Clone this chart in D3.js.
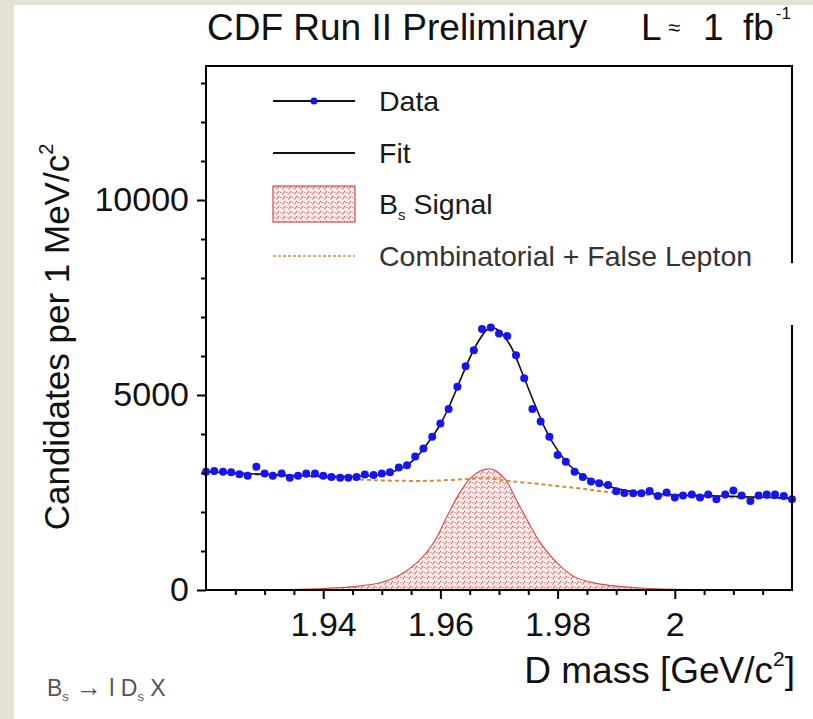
<!DOCTYPE html>
<html>
<head>
<meta charset="utf-8">
<script src="https://cdn.jsdelivr.net/npm/d3@7"></script>
<style>
  html, body { margin: 0; padding: 0; background: #e4e2d2; }
  svg { display: block; }
  text { font-family: "Liberation Sans", Arial, sans-serif; }
</style>
</head>
<body>
<svg id="chart" width="813" height="719"></svg>
<script>
// bin centres of the D mass histogram [GeV/c^2]
const massBins = [1.9200, 1.9214, 1.9229, 1.9243, 1.9257, 1.9271, 1.9286, 1.9300, 1.9314, 1.9329,
  1.9343, 1.9357, 1.9371, 1.9386, 1.9400, 1.9414, 1.9429, 1.9443, 1.9457, 1.9471,
  1.9486, 1.9500, 1.9514, 1.9529, 1.9543, 1.9557, 1.9571, 1.9586, 1.9600, 1.9614,
  1.9629, 1.9643, 1.9657, 1.9671, 1.9686, 1.9700, 1.9714, 1.9729, 1.9743, 1.9757,
  1.9771, 1.9786, 1.9800, 1.9814, 1.9829, 1.9843, 1.9857, 1.9871, 1.9886, 1.9900,
  1.9914, 1.9929, 1.9943, 1.9957, 1.9971, 1.9986, 2.0000, 2.0014, 2.0029, 2.0043,
  2.0057, 2.0071, 2.0086, 2.0100, 2.0114, 2.0129, 2.0143, 2.0157, 2.0171, 2.0186, 2.0200]
// candidates in each bin
const candidates = [3030, 3050, 3030, 3020, 2970, 2930, 3160, 2990, 2930, 2990,
  2880, 2930, 2990, 2990, 2930, 2900, 2880, 2880, 2900, 2960,
  2950, 2990, 3020, 3140, 3200, 3420, 3630, 3930, 4270, 4640,
  5210, 5740, 6150, 6690, 6730, 6580, 6510, 6020, 5430, 4640,
  4320, 3930, 3460, 3290, 3030, 2900, 2780, 2740, 2690, 2530,
  2490, 2480, 2480, 2540, 2410, 2500, 2370, 2420, 2450, 2370,
  2450, 2330, 2450, 2550, 2420, 2280, 2420, 2450, 2450, 2410, 2330]

// total fit
const fitMass = [1.920, 1.925, 1.930, 1.935, 1.940, 1.945, 1.950, 1.952, 1.954, 1.956, 1.958, 1.960,
  1.962, 1.964, 1.966, 1.968, 1.969, 1.970, 1.972, 1.974, 1.976, 1.978, 1.980, 1.982,
  1.984, 1.986, 1.988, 1.990, 1.994, 2.000, 2.005, 2.010, 2.015, 2.020]
const fitValues = [3035, 3000, 2965, 2935, 2915, 2910, 2960, 3040, 3170, 3420, 3800, 4250,
  4880, 5600, 6250, 6680, 6720, 6650, 6250, 5550, 4800, 4100, 3580, 3200,
  2960, 2800, 2690, 2600, 2500, 2440, 2420, 2400, 2380, 2350]

// combinatorial + false lepton background
const bkgMass = [1.920, 1.930, 1.940, 1.950, 1.958, 1.964, 1.968, 1.972, 1.978, 1.984, 1.990, 1.996, 2.002, 2.010, 2.020]
const bkgValues = [3030, 2950, 2880, 2810, 2800, 2840, 2860, 2790, 2700, 2600, 2490, 2430, 2400, 2370, 2340]

// Bs signal
const sigMass = [1.930, 1.936, 1.942, 1.946, 1.950, 1.953, 1.956, 1.959, 1.961, 1.963, 1.965, 1.967,
  1.968, 1.969, 1.971, 1.973, 1.975, 1.977, 1.979, 1.981, 1.983, 1.986, 1.990, 1.995, 2.002, 2.010]
const sigValues = [0, 15, 55, 100, 200, 380, 700, 1250, 1850, 2420, 2850, 3070,
  3100, 3090, 2850, 2300, 1740, 1220, 840, 540, 330, 190, 100, 45, 10, 0]

const xTicks = [1.94, 1.96, 1.98, 2]
const xMinorTicks = [1.925, 1.93, 1.935, 1.945, 1.95, 1.955, 1.965, 1.97, 1.975, 1.985, 1.99, 1.995, 2.005, 2.01, 2.015]
const yTicks = [0, 5000, 10000]
const yMinorTicks = [1000, 2000, 3000, 4000, 6000, 7000, 8000, 9000, 11000, 12000, 13000]

const blue = "#1414f5", red = "#d84848", orange = "#d48b3a"

const width = 813, height = 719
const margin = {top: 66, right: 21, bottom: 129, left: 206}

const svg = d3.select("#chart")

// white sheet on the beige slide
svg.append("rect").attr("x", 14).attr("y", 5).attr("width", width - 14).attr("height", height - 5).attr("fill", "#ffffff")

const x = d3.scaleLinear()
  .domain([1.92, 2.02])
  .range([margin.left, width - margin.right])

const y = d3.scaleLinear()
  .domain([0, 13436])
  .range([height - margin.bottom, margin.top])

// hatch used for the signal
const defs = svg.append("defs")
const pat = defs.append("pattern")
  .attr("id", "hatch")
  .attr("patternUnits", "userSpaceOnUse")
  .attr("width", 6).attr("height", 5)
pat.append("rect").attr("width", 6).attr("height", 5).attr("fill", "#fdeeee")
pat.append("path").attr("d", "M0.5,4.5 L3,0.8").attr("stroke", "#d95050").attr("stroke-width", 1)
pat.append("path").attr("d", "M3.8,2.5 L5.6,2.5").attr("stroke", "#e58080").attr("stroke-width", 0.9)

// signal area
const sigData = sigMass.map((m, i) => [m, sigValues[i]])
const area = d3.area()
  .x(d => x(d[0]))
  .y0(y(0))
  .y1(d => y(d[1]))
  .curve(d3.curveCatmullRom.alpha(0.5))
svg.append("path")
  .datum(sigData)
  .attr("fill", "url(#hatch)")
  .attr("stroke", red)
  .attr("stroke-width", 1.1)
  .attr("d", area)

// background
const line = d3.line()
  .x(d => x(d[0]))
  .y(d => y(d[1]))
  .curve(d3.curveCatmullRom)
svg.append("path")
  .datum(bkgMass.map((m, i) => [m, bkgValues[i]]))
  .attr("fill", "none")
  .attr("stroke", orange)
  .attr("stroke-width", 2)
  .attr("stroke-dasharray", "4,3")
  .attr("d", line)

// fit
svg.append("path")
  .datum(fitMass.map((m, i) => [m, fitValues[i]]))
  .attr("fill", "none")
  .attr("stroke", "#111")
  .attr("stroke-width", 1.6)
  .attr("d", line)

// data points
svg.append("g")
  .selectAll("circle")
  .data(massBins.map((m, i) => [m, candidates[i]]))
  .join("circle")
  .attr("cx", d => x(d[0]))
  .attr("cy", d => y(d[1]))
  .attr("r", 4)
  .attr("fill", blue)

// frame
svg.append("rect")
  .attr("x", margin.left).attr("y", margin.top)
  .attr("width", width - margin.left - margin.right)
  .attr("height", height - margin.top - margin.bottom)
  .attr("fill", "none")
  .attr("stroke", "#000")
  .attr("stroke-width", 2)

// axes
const xAxis = svg.append("g")
  .attr("transform", `translate(0,${height - margin.bottom})`)
  .call(d3.axisBottom(x).tickValues(xTicks).tickFormat(d3.format("")).tickSize(9).tickPadding(13))
const xMinor = svg.append("g")
  .attr("transform", `translate(0,${height - margin.bottom})`)
  .call(d3.axisBottom(x).tickValues(xMinorTicks).tickFormat("").tickSize(5))
const yAxis = svg.append("g")
  .attr("transform", `translate(${margin.left},0)`)
  .call(d3.axisLeft(y).tickValues(yTicks).tickFormat(d3.format("d")).tickSize(9).tickPadding(8))
const yMinor = svg.append("g")
  .attr("transform", `translate(${margin.left},0)`)
  .call(d3.axisLeft(y).tickValues(yMinorTicks).tickFormat("").tickSize(5))

for (const g of [xAxis, xMinor, yAxis, yMinor]) {
  g.select(".domain").remove()
  g.selectAll(".tick line").attr("stroke", "#000").attr("stroke-width", 2)
  g.selectAll("text")
    .attr("font-family", "Liberation Sans, Arial, sans-serif")
    .attr("font-size", 34)
    .attr("fill", "#111")
}

// legend backdrop breaks the right frame edge
svg.append("rect")
  .attr("x", width - margin.right - 4).attr("y", 263)
  .attr("width", 12).attr("height", 62)
  .attr("fill", "#fff")

// legend
const legend = svg.append("g").attr("font-size", 28.5).attr("fill", "#1a1a1a")
const lx0 = 273, lx1 = 355, tx = 379
const rows = [101, 153, 204, 256]

legend.append("line").attr("x1", lx0).attr("x2", lx1).attr("y1", rows[0]).attr("y2", rows[0])
  .attr("stroke", "#111").attr("stroke-width", 2)
legend.append("circle").attr("cx", (lx0 + lx1) / 2).attr("cy", rows[0]).attr("r", 3.5).attr("fill", blue)
legend.append("text").attr("x", tx).attr("y", rows[0]).attr("dy", "0.35em").text("Data")

legend.append("line").attr("x1", lx0).attr("x2", lx1).attr("y1", rows[1]).attr("y2", rows[1])
  .attr("stroke", "#111").attr("stroke-width", 2)
legend.append("text").attr("x", tx).attr("y", rows[1]).attr("dy", "0.35em").text("Fit")

legend.append("rect").attr("x", lx0).attr("y", rows[2] - 18).attr("width", lx1 - lx0).attr("height", 36)
  .attr("fill", "url(#hatch)").attr("stroke", red).attr("stroke-width", 1.2)
const bsText = legend.append("text").attr("x", tx).attr("y", rows[2]).attr("dy", "0.35em")
bsText.append("tspan").text("B")
bsText.append("tspan").attr("font-size", 15).attr("dy", 6).text("s")
bsText.append("tspan").attr("dy", -6).text(" Signal")

legend.append("line").attr("x1", lx0).attr("x2", lx1).attr("y1", rows[3]).attr("y2", rows[3])
  .attr("stroke", orange).attr("stroke-width", 1.5).attr("stroke-dasharray", "3,2")
legend.append("text").attr("x", tx).attr("y", rows[3]).attr("dy", "0.35em").attr("fill", "#333")
  .text("Combinatorial + False Lepton")

// title
svg.append("text").attr("x", 207).attr("y", 40).attr("font-size", 37).attr("fill", "#111")
  .text("CDF Run II Preliminary")
const lum = svg.append("text").attr("y", 40).attr("font-size", 37).attr("fill", "#111")
lum.append("tspan").attr("x", 641).text("L")
lum.append("tspan").attr("x", 668).attr("font-size", 22).attr("dy", -5).text("≈")
lum.append("tspan").attr("x", 703).attr("dy", 5).text("1")
lum.append("tspan").attr("x", 743).text("fb")
lum.append("tspan").attr("font-size", 17).attr("dx", 2).attr("dy", -21).text("-1")

// axis titles
const yTitle = svg.append("text")
  .attr("transform", "translate(69,337) rotate(-90)")
  .attr("text-anchor", "middle")
  .attr("font-size", 35)
  .attr("fill", "#111")
yTitle.append("tspan").text("Candidates per 1 MeV/c")
yTitle.append("tspan").attr("font-size", 20).attr("dy", -16).text("2")

const xTitle = svg.append("text")
  .attr("x", 795).attr("y", 683)
  .attr("text-anchor", "end")
  .attr("font-size", 37)
  .attr("fill", "#111")
xTitle.append("tspan").text("D mass [GeV/c")
xTitle.append("tspan").attr("font-size", 21).attr("dy", -17).text("2")
xTitle.append("tspan").attr("dy", 17).text("]")

// decay channel
const chan = svg.append("text").attr("x", 47).attr("y", 696).attr("font-size", 23).attr("fill", "#555")
chan.append("tspan").text("B")
chan.append("tspan").attr("font-size", 13).attr("dy", 5).text("s")
chan.append("tspan").attr("dy", -5).attr("font-size", 26).text(" \u2192 ")
chan.append("tspan").text("l D")
chan.append("tspan").attr("font-size", 13).attr("dy", 5).text("s")
chan.append("tspan").attr("dy", -5).text(" X")
</script>
</body>
</html>
